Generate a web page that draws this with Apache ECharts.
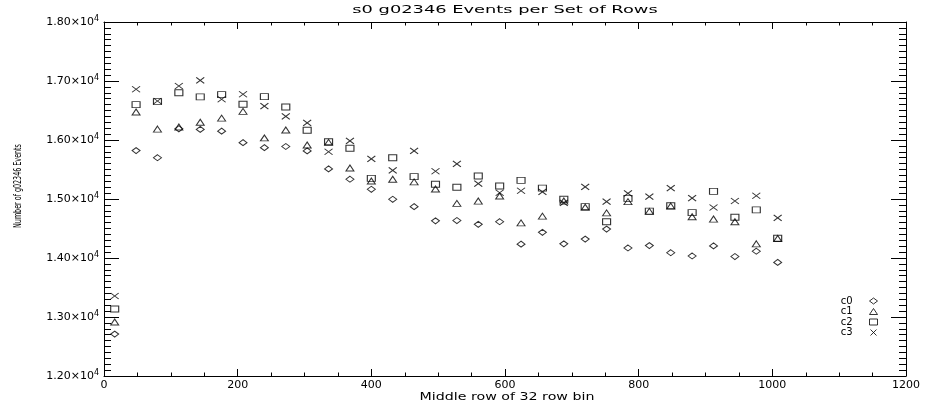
<!DOCTYPE html>
<html>
<head>
<meta charset="utf-8">
<script src="https://cdn.jsdelivr.net/npm/echarts@6/dist/echarts.min.js"></script>
<style>html,body{margin:0;padding:0;background:#fff;}#chart{width:929px;height:408px;}</style>
</head>
<body>
<div id="chart"></div>
<script>
const titleText = 's0 g02346 Events per Set of Rows';
const xAxisName = 'Middle row of 32 row bin';
const yAxisName = 'Number of g02346 Events';
const seriesNames = ['c0', 'c1', 'c2', 'c3'];
const rows = [16, 48, 80, 112, 144, 176, 208, 240, 272, 304, 336, 368, 400, 432, 464, 496,
  528, 560, 592, 624, 656, 688, 720, 752, 784, 816, 848, 880, 912, 944, 976, 1008];
const c0 = [12710, 15820, 15700, 16190, 16180, 16150, 15955, 15870, 15890, 15815, 15510, 15335, 15165, 14995, 14870, 14630,
  14635, 14570, 14615, 14235, 14435, 14240, 14320, 14490, 14170, 14210, 14090, 14035, 14205, 14025, 14115, 13925];
const c1 = [12915, 16475, 16185, 16220, 16300, 16370, 16485, 16035, 16170, 15915, 15960, 15525, 15305, 15335, 15290, 15170,
  14925, 14965, 15050, 14595, 14710, 14965, 14860, 14765, 14955, 14790, 14880, 14700, 14660, 14615, 14240, 14330];
const c2 = [13135, 16600, 16650, 16800, 16730, 16770, 16605, 16735, 16560, 16165, 15970, 15860, 15350, 15700, 15380, 15250,
  15200, 15390, 15220, 15315, 15185, 14995, 14870, 14615, 15010, 14795, 14885, 14770, 15130, 14690, 14815, 14335];
const c3 = [13355, 16860, 16660, 16915, 17010, 16690, 16775, 16575, 16400, 16290, 15800, 15985, 15680, 15485, 15815, 15470,
  15595, 15260, 15105, 15140, 15120, 14935, 15205, 14955, 15095, 15040, 15185, 15015, 14855, 14965, 15055, 14680];
const seriesValues = [c0, c1, c2, c3];
const symbols = ['diamond', 'triangle', 'rect', 'path://M0,0L10,10M10,0L0,10'];

const FONT = '"DejaVu Sans", sans-serif';
const black = '#000';

function xAx(pos) {
  return {
    type: 'value', position: pos, min: 0, max: 1200, interval: 200,
    axisLine: {show: true, onZero: false, lineStyle: {color: black, width: 1}},
    axisTick: {show: true, inside: true, length: 7, lineStyle: {color: black, width: 1}},
    minorTick: {show: true, splitNumber: 4, length: 3.5, lineStyle: {color: black, width: 1}},
    splitLine: {show: false}, minorSplitLine: {show: false},
    axisLabel: {show: pos === 'bottom', color: black, fontSize: 11, fontFamily: FONT, margin: 4,
      formatter: v => String(v)}
  };
}
function yAx(pos) {
  return {
    type: 'value', position: pos, min: 12000, max: 18000, interval: 1000,
    axisLine: {show: true, onZero: false, lineStyle: {color: black, width: 1}},
    axisTick: {show: true, inside: true, length: 15, lineStyle: {color: black, width: 1}},
    minorTick: {show: true, splitNumber: 10, length: 7, lineStyle: {color: black, width: 1}},
    splitLine: {show: false}, minorSplitLine: {show: false},
    axisLabel: {
      show: pos === 'left', color: black, fontSize: 11, fontFamily: FONT, margin: 5,
      formatter: v => (v / 10000).toFixed(2) + '×10{s|4}',
      rich: {s: {fontSize: 8, fontFamily: FONT, color: black, padding: [0, 0, 7, 0]}}
    }
  };
}

const option = {
  animation: false,
  backgroundColor: '#fff',
  grid: {left: 104, right: 23, top: 22, bottom: 32, containLabel: false},
  xAxis: [xAx('bottom'), xAx('top')],
  yAxis: [yAx('left'), yAx('right')],
  legend: {
    data: seriesNames, orient: 'vertical', right: 51, top: 296, padding: 0,
    itemWidth: 8, itemHeight: 6, itemGap: 0.5, align: 'right', selectedMode: false,
    itemStyle: {color: 'rgba(0,0,0,0)', borderColor: black, borderWidth: 1},
    textStyle: {color: black, fontSize: 10, fontFamily: FONT, lineHeight: 10, padding: [0, 12, 0, 0]}
  },
  graphic: [
    {type: 'text', x: 505, y: 10, scaleX: 1.62,
      style: {text: titleText, font: '11px "DejaVu Sans"', fill: black, textAlign: 'center', textVerticalAlign: 'middle', align: 'center', verticalAlign: 'middle'}},
    {type: 'text', x: 507, y: 397, scaleX: 1.42,
      style: {text: xAxisName, font: '10px "DejaVu Sans"', fill: black, textAlign: 'center', textVerticalAlign: 'middle', align: 'center', verticalAlign: 'middle'}},
    {type: 'text', x: 18, y: 186, rotation: Math.PI / 2, scaleX: 0.71,
      style: {text: yAxisName, font: '10px "Liberation Sans Narrow", "DejaVu Sans Condensed", sans-serif', fill: black, textAlign: 'center', textVerticalAlign: 'middle', align: 'center', verticalAlign: 'middle'}}
  ],
  series: seriesNames.map((name, k) => ({
    name: name, type: 'scatter', xAxisIndex: 0, yAxisIndex: 0,
    symbol: symbols[k], symbolSize: [8, 6],
    itemStyle: {color: 'rgba(0,0,0,0)', borderColor: black, borderWidth: 1},
    emphasis: {disabled: true},
    data: rows.map((r, i) => [r, seriesValues[k][i]])
  }))
};

const chart = echarts.init(document.getElementById('chart'), null, {renderer: 'canvas'});
chart.setOption(option);
const zr = chart.getZr();
zr.storage.getDisplayList(true);
zr.refreshImmediately();
</script>
</body>
</html>
